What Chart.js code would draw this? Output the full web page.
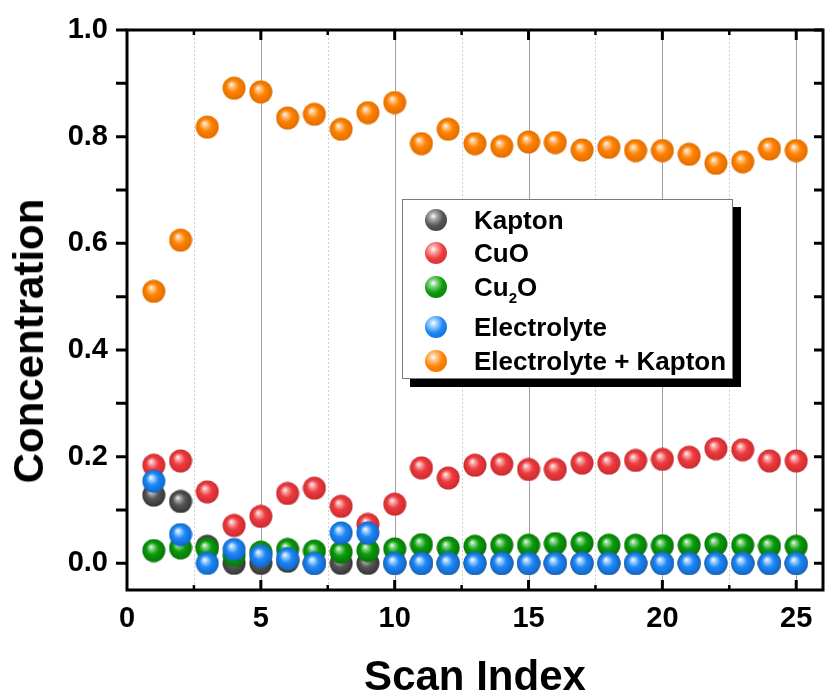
<!DOCTYPE html>
<html>
<head>
<meta charset="utf-8">
<script src="https://cdn.jsdelivr.net/npm/chart.js@4.4.1/dist/chart.umd.min.js"></script>
<style>
  body { margin: 0; background: #fff; }
  #wrap { position: relative; width: 826px; height: 693px; }
  .legend {
    position: absolute; left: 402px; top: 199px; width: 329px; height: 178px;
    border: 1px solid #7a7a7a; background: #fff; box-shadow: 8px 8px 0 #000;
    font: bold 26px "Liberation Sans", Arial, sans-serif; color: #000;
  }
  .row { position: absolute; left: 0; width: 100%; height: 30px; line-height: 30px; }
  .dot { position: absolute; left: 22px; top: 4px; width: 22px; height: 22px; border-radius: 50%; }
  .lbl { position: absolute; left: 71px; top: 0; white-space: nowrap; }
  .lbl sub { font-size: 15px; vertical-align: -7px; line-height: 0; }
  .ytitle {
    position: absolute; left: 29px; top: 341px; white-space: nowrap; line-height: 1;
    font: bold 42px "Liberation Sans", Arial, sans-serif; color: #000;
    transform: translate(-50%, -50%) rotate(-90deg);
  }
</style>
</head>
<body>
<div id="wrap">
  <canvas id="chart" width="826" height="693"></canvas>
  <div class="ytitle">Concentration</div>
  <div class="legend" id="legend"></div>
</div>
<script>
// values
const scanIndex = [1, 2, 3, 4, 5, 6, 7, 8, 9, 10, 11, 12, 13, 14, 15, 16, 17, 18, 19, 20, 21, 22, 23, 24, 25];

const kapton = [0.128, 0.116, 0.032, 0, 0, 0.004, 0, 0, 0, 0, 0, 0, 0, 0, 0, 0, 0, 0, 0, 0, 0, 0, 0, 0, 0];
const cuO = [0.184, 0.192, 0.134, 0.071, 0.088, 0.131, 0.141, 0.107, 0.073, 0.111, 0.179, 0.160, 0.184,
             0.186, 0.176, 0.176, 0.188, 0.188, 0.193, 0.195, 0.199, 0.215, 0.213, 0.192, 0.192];
const cu2O = [0.024, 0.029, 0.027, 0.015, 0.021, 0.026, 0.023, 0.021, 0.024, 0.027, 0.035, 0.029, 0.032,
              0.034, 0.034, 0.037, 0.038, 0.034, 0.034, 0.033, 0.034, 0.036, 0.034, 0.032, 0.032];
const electrolyte = [0.154, 0.054, 0, 0.026, 0.014, 0.009, 0, 0.057, 0.057, 0, 0, 0, 0, 0, 0, 0, 0, 0, 0, 0, 0, 0, 0, 0, 0];
const electrolyteKapton = [0.510, 0.606, 0.818, 0.891, 0.884, 0.835, 0.842, 0.814, 0.845, 0.864, 0.787, 0.814, 0.787,
                           0.782, 0.790, 0.789, 0.775, 0.780, 0.774, 0.774, 0.767, 0.750, 0.753, 0.777, 0.774];

const xTicks = [0, 5, 10, 15, 20, 25];
const yTicks = [0, 0.2, 0.4, 0.6, 0.8, 1.0];

const seriesLabels = ['Kapton', 'CuO', 'Cu<sub>2</sub>O', 'Electrolyte', 'Electrolyte + Kapton'];
const seriesValues = [kapton, cuO, cu2O, electrolyte, electrolyteKapton];
// base, highlight, shadow
const seriesColors = [
  ['#565656', '#a8a8a8', '#333333'],
  ['#ee3c40', '#f8a6a6', '#c92a2e'],
  ['#0b9c0b', '#86d486', '#067306'],
  ['#1f89f5', '#a3d0ff', '#0f63c8'],
  ['#ff8300', '#ffc58a', '#e06b00']
];

const FONT = '"Liberation Sans", Arial, sans-serif';

function makeBall(c) {
  const cv = document.createElement('canvas');
  cv.width = 24; cv.height = 24;
  const g = cv.getContext('2d');
  const grad = g.createRadialGradient(9, 8, 0, 12, 12, 12);
  grad.addColorStop(0, '#ffffff');
  grad.addColorStop(0.2, c[1]);
  grad.addColorStop(0.5, c[0]);
  grad.addColorStop(1, c[2]);
  g.fillStyle = grad;
  g.beginPath();
  g.arc(12, 12, 11.5, 0, Math.PI * 2);
  g.fill();
  return cv;
}

// html legend
const legendRows = [20, 53, 87, 127, 161];
const legendEl = document.getElementById('legend');
seriesLabels.forEach((lab, i) => {
  const c = seriesColors[i];
  const row = document.createElement('div');
  row.className = 'row';
  row.style.top = (legendRows[i] - 15) + 'px';
  row.innerHTML = `<span class="dot" style="background: radial-gradient(circle at 38% 33%, #fff 0%, ${c[1]} 18%, ${c[0]} 48%, ${c[2]} 100%)"></span><span class="lbl">${lab}</span>`;
  legendEl.appendChild(row);
});

const framePlugin = {
  id: 'frame',
  beforeDatasetsDraw(chart) {
    const { ctx, chartArea: a, scales: { x } } = chart;
    ctx.save();
    ctx.lineWidth = 1;
    for (let v = 2.5; v <= 25; v += 2.5) {
      const px = Math.round(x.getPixelForValue(v)) + 0.5;
      const major = v % 5 === 0;
      ctx.strokeStyle = major ? '#a0a0a0' : '#d0d0d0';
      ctx.setLineDash(major ? [] : [2, 2]);
      ctx.beginPath();
      ctx.moveTo(px, a.top);
      ctx.lineTo(px, a.bottom);
      ctx.stroke();
    }
    ctx.restore();
  },
  afterDatasetsDraw(chart) {
    const { ctx, chartArea: a, scales: { x, y } } = chart;
    ctx.save();
    ctx.strokeStyle = '#000';
    ctx.lineWidth = 3;
    ctx.strokeRect(a.left, a.top, a.right - a.left, a.bottom - a.top);
    // x ticks, inward on bottom and top
    for (let v = 2.5; v <= 25; v += 2.5) {
      const px = x.getPixelForValue(v);
      const len = v % 5 === 0 ? 10 : 5;
      ctx.lineWidth = v % 5 === 0 ? 3 : 2.5;
      ctx.beginPath();
      ctx.moveTo(px, a.bottom); ctx.lineTo(px, a.bottom - len);
      ctx.moveTo(px, a.top); ctx.lineTo(px, a.top + len);
      ctx.stroke();
    }
    // y ticks, outward on left, inward on right
    ctx.lineWidth = 3;
    for (let k = 0; k <= 10; k++) {
      const py = y.getPixelForValue(k / 10);
      ctx.beginPath();
      ctx.moveTo(a.left, py); ctx.lineTo(a.left - 11, py);
      ctx.moveTo(a.right, py); ctx.lineTo(a.right - 9, py);
      ctx.stroke();
    }
    ctx.restore();
  }
};

const order = [4, 3, 2, 1, 0];
const datasets = seriesValues.map((vals, i) => ({
  label: seriesLabels[i].replace(/<[^>]+>/g, ''),
  data: scanIndex.map((s, j) => ({ x: s, y: vals[j] })),
  pointStyle: makeBall(seriesColors[i]),
  pointRadius: 11,
  showLine: false,
  order: order[i]
}));

// invisible tick marks reserve the label offset
const hiddenTicks = len => ({ display: true, drawOnChartArea: false, drawTicks: true, tickLength: len, tickColor: 'rgba(0,0,0,0)' });
const noPad = s => { s.paddingLeft = 0; s.paddingRight = 0; s.paddingTop = 0; s.paddingBottom = 0; };

new Chart(document.getElementById('chart'), {
  type: 'scatter',
  data: { datasets },
  options: {
    responsive: false,
    animation: false,
    devicePixelRatio: 1,
    layout: { autoPadding: false, padding: { top: 30, right: 3, left: 0, bottom: 0 } },
    plugins: { legend: { display: false }, tooltip: { enabled: false } },
    scales: {
      x: {
        type: 'linear', min: 0, max: 26,
        afterBuildTicks: s => { s.ticks = xTicks.map(v => ({ value: v })); },
        afterFit: s => { s.height = 103; noPad(s); },
        grid: hiddenTicks(10),
        border: { display: false },
        ticks: { color: '#000', padding: 2, maxRotation: 0, font: { family: FONT, size: 29, weight: 'bold' } },
        title: { display: true, text: 'Scan Index', color: '#000', padding: { top: 0, bottom: 0 },
                 font: { family: FONT, size: 42, weight: 'bold', lineHeight: 0.7 } }
      },
      y: {
        type: 'linear', min: -0.05, max: 1.0,
        afterBuildTicks: s => { s.ticks = yTicks.map(v => ({ value: v })); },
        afterFit: s => { s.width = 127; noPad(s); },
        grid: hiddenTicks(17),
        border: { display: false },
        ticks: { color: '#000', padding: 2, callback: v => v.toFixed(1), font: { family: FONT, size: 29, weight: 'bold' } }
      }
    }
  },
  plugins: [framePlugin]
});
</script>
</body>
</html>
